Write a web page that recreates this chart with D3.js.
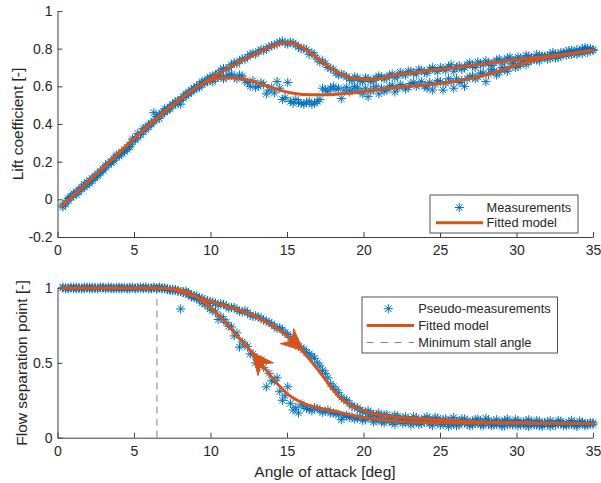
<!DOCTYPE html>
<html><head><meta charset="utf-8">
<script src="https://cdn.jsdelivr.net/npm/d3@7"></script>
<style>
body{margin:0;background:#fff;}
svg{display:block;font-family:"Liberation Sans",Arial,Helvetica,sans-serif;}
</style>
</head><body>
<svg id="chart" width="601" height="483"></svg>
<script>
// ---------- DATA ----------
const xTicks = [0,5,10,15,20,25,30,35];
const xTickLabels = ["0","5","10","15","20","25","30","35"];
const liftTicks = [-0.2,0,0.2,0.4,0.6,0.8,1];
const liftTickLabels = ["-0.2","0","0.2","0.4","0.6","0.8","1"];
const sepTicks = [0,0.5,1];
const sepTickLabels = ["0","0.5","1"];

// Lift: measurements, increasing angle branch [aoa, Cl]
const liftMeasUp = [[0.35,-0.030],[0.70,0.005],[1.05,0.020],[1.40,0.050],[1.75,0.065],[2.10,0.100],[2.45,0.115],[2.80,0.150],[3.15,0.170],[3.50,0.200],
[3.85,0.225],[4.20,0.245],[4.55,0.275],[4.90,0.305],[5.25,0.350],[5.60,0.360],[5.95,0.395],[6.30,0.415],[6.65,0.450],[7.00,0.465],
[7.35,0.490],[7.70,0.515],[8.05,0.525],[8.40,0.560],[8.75,0.580],[9.10,0.600],[9.45,0.625],[9.80,0.640],[10.15,0.655],[10.50,0.670],
[10.85,0.695],[11.20,0.700],[11.55,0.725],[11.90,0.735],[12.25,0.745],[12.60,0.770],[12.95,0.770],[13.30,0.795],[13.65,0.800],[14.00,0.815],
[14.35,0.825],[14.70,0.840],[15.05,0.825],[15.40,0.830],[15.75,0.810],[16.10,0.800],[16.45,0.770],[16.80,0.765],[17.15,0.730],[17.50,0.720],
[17.85,0.695],[18.20,0.670],[18.55,0.665],[18.90,0.650],[19.25,0.630],[19.60,0.645],[19.95,0.625],[20.30,0.640],[20.65,0.630],[21.00,0.655],
[21.35,0.640],[21.70,0.660],[22.05,0.645],[22.40,0.675],[22.75,0.660],[23.10,0.680],[23.45,0.665],[23.80,0.685],[24.15,0.670],[24.50,0.700],
[24.85,0.680],[25.20,0.695],[25.55,0.705],[25.90,0.680],[26.25,0.710],[26.60,0.700],[26.95,0.725],[27.30,0.700],[27.65,0.720],[28.00,0.735],
[28.35,0.710],[28.70,0.740],[29.05,0.725],[29.40,0.750],[29.75,0.735],[30.10,0.755],[30.45,0.740],[30.80,0.760],[31.15,0.745],[31.50,0.765],
[31.85,0.755],[32.20,0.770],[32.55,0.750],[32.90,0.780],[33.25,0.765],[33.60,0.790],[33.95,0.770],[34.30,0.800],[34.65,0.780],[35.00,0.795]];
const liftMeasUpB = [[0.525,-0.020],[0.875,0.010],[1.225,0.040],[1.575,0.055],[1.925,0.090],[2.275,0.100],[2.625,0.135],[2.975,0.155],[3.325,0.190],[3.675,0.205],
[4.025,0.240],[4.375,0.255],[4.725,0.290],[5.075,0.315],[5.425,0.345],[5.775,0.380],[6.125,0.400],[6.475,0.440],[6.825,0.450],[7.175,0.480],
[7.525,0.500],[7.875,0.525],[8.225,0.545],[8.575,0.570],[8.925,0.585],[9.275,0.610],[9.625,0.625],[9.975,0.650],[10.325,0.660],[10.675,0.685],
[11.025,0.690],[11.375,0.715],[11.725,0.720],[12.075,0.745],[12.425,0.755],[12.775,0.775],[13.125,0.785],[13.475,0.790],[13.825,0.810],[14.175,0.820],
[14.525,0.835],[14.875,0.830],[15.225,0.835],[15.575,0.820],[15.925,0.800],[16.275,0.795],[16.625,0.780],[16.975,0.745],[17.325,0.735],[17.675,0.700],
[18.025,0.690],[18.375,0.660],[18.725,0.660],[19.075,0.640],[19.425,0.650],[19.775,0.630],[20.125,0.645],[20.475,0.625],[20.825,0.645],[21.175,0.650],
[21.525,0.645],[21.875,0.665],[22.225,0.655],[22.575,0.665],[22.925,0.680],[23.275,0.670],[23.625,0.690],[23.975,0.675],[24.325,0.690],[24.675,0.685],
[25.025,0.700],[25.375,0.685],[25.725,0.715],[26.075,0.700],[26.425,0.690],[26.775,0.715],[27.125,0.710],[27.475,0.730],[27.825,0.715],[28.175,0.725],
[28.525,0.725],[28.875,0.745],[29.225,0.735],[29.575,0.755],[29.925,0.740],[30.275,0.750],[30.625,0.765],[30.975,0.750],[31.325,0.770],[31.675,0.760],
[32.025,0.760],[32.375,0.780],[32.725,0.770],[33.075,0.775],[33.425,0.790],[33.775,0.775],[34.125,0.785],[34.475,0.805],[34.825,0.790]];

// Lift: measurements, decreasing angle branch [aoa, Cl]
const liftMeasDown = [[0.35,-0.040],[0.70,-0.005],[1.05,0.030],[1.40,0.040],[1.75,0.080],[2.10,0.085],[2.45,0.125],[2.80,0.140],[3.15,0.180],[3.50,0.195],
[3.85,0.235],[4.20,0.250],[4.55,0.265],[4.90,0.320],[5.25,0.330],[5.60,0.375],[5.95,0.385],[6.30,0.460],[6.65,0.430],[7.00,0.480],
[7.35,0.480],[7.70,0.505],[8.05,0.505],[8.40,0.550],[8.75,0.570],[9.10,0.590],[9.45,0.610],[9.80,0.625],[10.15,0.625],[10.50,0.650],
[10.85,0.640],[11.20,0.660],[11.55,0.650],[11.90,0.660],[12.25,0.630],[12.60,0.600],[12.95,0.595],[13.30,0.620],[13.65,0.560],[14.00,0.595],
[14.35,0.625],[14.70,0.530],[15.05,0.620],[15.40,0.510],[15.75,0.515],[16.10,0.505],[16.45,0.520],[16.80,0.510],[17.15,0.530],[17.50,0.580],
[17.85,0.590],[18.20,0.585],[18.55,0.535],[18.90,0.595],[19.25,0.580],[19.60,0.590],[19.95,0.560],[20.30,0.545],[20.65,0.585],[21.00,0.560],
[21.35,0.575],[21.70,0.600],[22.05,0.570],[22.40,0.610],[22.75,0.585],[23.10,0.615],[23.45,0.600],[23.80,0.625],[24.15,0.590],[24.50,0.580],
[24.85,0.630],[25.20,0.580],[25.55,0.640],[25.90,0.590],[26.25,0.620],[26.60,0.600],[26.95,0.650],[27.30,0.640],[27.65,0.670],[28.00,0.625],
[28.35,0.690],[28.70,0.660],[29.05,0.700],[29.40,0.680],[29.75,0.720],[30.10,0.705],[30.45,0.735],[30.80,0.730],[31.15,0.745],[31.50,0.735],
[31.85,0.760],[32.20,0.750],[32.55,0.770],[32.90,0.760],[33.25,0.785],[33.60,0.770],[33.95,0.795],[34.30,0.775],[34.65,0.800],[35.00,0.790]];
const liftMeasDownB = [[0.525,-0.025],[0.875,0.015],[1.225,0.025],[1.575,0.065],[1.925,0.075],[2.275,0.110],[2.625,0.125],[2.975,0.160],[3.325,0.185],[3.675,0.215],
[4.025,0.230],[4.375,0.265],[4.725,0.280],[5.075,0.325],[5.425,0.345],[5.775,0.370],[6.125,0.405],[6.475,0.425],[6.825,0.455],[7.175,0.470],
[7.525,0.505],[7.875,0.520],[8.225,0.540],[8.575,0.560],[8.925,0.590],[9.275,0.595],[9.625,0.620],[9.975,0.635],[10.325,0.640],[10.675,0.655],
[11.025,0.650],[11.375,0.665],[11.725,0.640],[12.075,0.655],[12.425,0.620],[12.775,0.630],[13.125,0.600],[13.475,0.610],[13.825,0.580],[14.175,0.565],
[14.525,0.590],[14.875,0.540],[15.225,0.520],[15.575,0.530],[15.925,0.510],[16.275,0.515],[16.625,0.505],[16.975,0.520],[17.325,0.590],[17.675,0.575],
[18.025,0.600],[18.375,0.590],[18.725,0.580],[19.075,0.570],[19.425,0.600],[19.775,0.575],[20.125,0.590],[20.475,0.575],[20.825,0.600],[21.175,0.590],
[21.525,0.580],[21.875,0.605],[22.225,0.590],[22.575,0.600],[22.925,0.595],[23.275,0.620],[23.625,0.610],[23.975,0.600],[24.325,0.620],[24.675,0.610],
[25.025,0.625],[25.375,0.615],[25.725,0.625],[26.075,0.640],[26.425,0.630],[26.775,0.640],[27.125,0.655],[27.475,0.650],[27.825,0.670],[28.175,0.665],
[28.525,0.680],[28.875,0.675],[29.225,0.690],[29.575,0.705],[29.925,0.700],[30.275,0.720],[30.625,0.715],[30.975,0.740],[31.325,0.740],[31.675,0.755],
[32.025,0.745],[32.375,0.765],[32.725,0.755],[33.075,0.775],[33.425,0.770],[33.775,0.785],[34.125,0.780],[34.475,0.790],[34.825,0.800]];

// Lift: fitted model branches [aoa, Cl]
const liftFitUp = [[0.3,-0.035],[2,0.092],[4,0.245],[6,0.395],[7,0.465],[8,0.53],[9,0.59],[10,0.642],[11,0.69],[12,0.735],[13,0.775],
[14,0.812],[14.8,0.832],[15.5,0.826],[16.3,0.79],[17,0.748],[17.8,0.70],[18.6,0.662],[19.5,0.64],[20.5,0.636],[22.4,0.665],[25,0.69],
[28,0.72],[30,0.742],[32,0.76],[34,0.78],[35,0.792]];
const liftFitDown = [[0.3,-0.035],[2,0.092],[4,0.245],[6,0.395],[7,0.465],[8,0.53],[9,0.59],[10,0.632],[10.8,0.645],[11.5,0.645],[12.5,0.632],
[13.5,0.607],[14.5,0.58],[15.5,0.562],[16.5,0.555],[17.5,0.555],[18.5,0.56],[19.5,0.567],[20,0.573],[21,0.583],[22.4,0.597],[24,0.607],
[25,0.615],[26.7,0.637],[28.5,0.672],[30,0.712],[31.5,0.745],[33,0.765],[35,0.792]];

// Separation point: pseudo-measurements, increasing branch [aoa, f]
const sepMeasUp = [[0.35,1.000],[0.70,0.995],[1.05,1.005],[1.40,1.000],[1.75,0.995],[2.10,1.005],[2.45,1.000],[2.80,1.000],[3.15,0.995],[3.50,1.005],
[3.85,1.000],[4.20,0.995],[4.55,1.000],[4.90,1.005],[5.25,1.000],[5.60,0.995],[5.95,1.000],[6.30,1.005],[6.65,1.000],
[7.00,0.995],[7.35,0.985],[7.70,0.990],[8.05,0.975],[8.40,0.980],[8.75,0.955],[9.10,0.945],[9.45,0.930],[9.80,0.915],[10.15,0.905],
[10.50,0.885],[10.85,0.890],[11.20,0.865],[11.55,0.870],[11.90,0.845],[12.25,0.850],[12.60,0.820],[12.95,0.815],[13.30,0.800],[13.65,0.780],
[14.00,0.760],[14.35,0.730],[14.70,0.720],[15.05,0.690],[15.40,0.650],[15.75,0.610],[16.10,0.590],[16.45,0.560],[16.80,0.530],[17.15,0.480],
[17.50,0.430],[17.85,0.360],[18.20,0.320],[18.55,0.270],[18.90,0.250],[19.25,0.210],[19.60,0.200],[19.95,0.175],[20.30,0.180],[20.65,0.155],
[21.00,0.165],[21.35,0.150],[21.70,0.130],[22.05,0.150],[22.40,0.125],[22.75,0.140],[23.10,0.115],[23.45,0.135],[23.80,0.120],[24.15,0.140],
[24.50,0.110],[24.85,0.130],[25.20,0.120],[25.55,0.105],[25.90,0.135],[26.25,0.110],[26.60,0.125],[26.95,0.100],[27.30,0.120],[27.65,0.110],
[28.00,0.130],[28.35,0.100],[28.70,0.120],[29.05,0.105],[29.40,0.125],[29.75,0.095],[30.10,0.115],[30.45,0.105],[30.80,0.120],[31.15,0.090],
[31.50,0.110],[31.85,0.100],[32.20,0.115],[32.55,0.090],[32.90,0.110],[33.25,0.095],[33.60,0.115],[33.95,0.090],[34.30,0.105],[34.65,0.095],[35.00,0.100]];
const sepMeasUpB = [[0.525,1.000],[0.875,1.005],[1.225,0.995],[1.575,1.000],[1.925,1.005],[2.275,0.995],[2.625,1.000],[2.975,1.005],[3.325,1.000],[3.675,0.995],
[4.025,1.005],[4.375,1.000],[4.725,0.995],[5.075,1.000],[5.425,1.005],[5.775,1.000],[6.125,0.995],[6.475,1.000],[6.825,0.995],[7.175,0.990],
[7.525,0.985],[7.875,0.980],[8.225,0.970],[8.575,0.965],[8.925,0.950],[9.275,0.935],[9.625,0.920],[9.975,0.910],[10.325,0.900],[10.675,0.895],
[11.025,0.880],[11.375,0.870],[11.725,0.855],[12.075,0.840],[12.425,0.835],[12.775,0.810],[13.125,0.805],[13.475,0.785],[13.825,0.770],[14.175,0.745],
[14.525,0.735],[14.875,0.700],[15.225,0.670],[15.575,0.640],[15.925,0.600],[16.275,0.570],[16.625,0.545],[16.975,0.500],[17.325,0.450],[17.675,0.400],
[18.025,0.340],[18.375,0.300],[18.725,0.255],[19.075,0.230],[19.425,0.205],[19.775,0.185],[20.125,0.170],[20.475,0.165],[20.825,0.150],[21.175,0.145],
[21.525,0.155],[21.875,0.135],[22.225,0.145],[22.575,0.130],[22.925,0.125],[23.275,0.140],[23.625,0.115],[23.975,0.130],[24.325,0.125],[24.675,0.135],
[25.025,0.110],[25.375,0.125],[25.725,0.120],[26.075,0.105],[26.425,0.125],[26.775,0.115],[27.125,0.110],[27.475,0.125],[27.825,0.100],[28.175,0.115],
[28.525,0.110],[28.875,0.100],[29.225,0.115],[29.575,0.105],[29.925,0.120],[30.275,0.095],[30.625,0.110],[30.975,0.105],[31.325,0.115],[31.675,0.095],
[32.025,0.105],[32.375,0.100],[32.725,0.115],[33.075,0.090],[33.425,0.105],[33.775,0.100],[34.125,0.110],[34.475,0.090],[34.825,0.100]];

// Separation point: pseudo-measurements, decreasing branch [aoa, f]
const sepMeasDown = [[0.35,1.005],[0.70,1.000],[1.05,0.995],[1.40,1.000],[1.75,1.005],[2.10,0.995],[2.45,1.000],[2.80,1.005],[3.15,1.000],[3.50,0.995],
[3.85,1.000],[4.20,1.005],[4.55,0.995],[4.90,1.000],[5.25,1.000],[5.60,1.005],[5.95,0.995],[6.30,1.000],[6.65,1.005],
[7.00,1.000],[7.35,0.990],[7.70,0.985],[8.05,0.860],[8.40,0.965],[8.75,0.940],[9.10,0.930],[9.45,0.900],[9.80,0.880],[10.15,0.850],
[10.50,0.790],[10.85,0.790],[11.20,0.745],[11.55,0.680],[11.90,0.605],[12.25,0.620],[12.60,0.560],[12.95,0.500],[13.30,0.520],[13.65,0.340],
[14.00,0.380],[14.35,0.400],[14.70,0.250],[15.05,0.340],[15.40,0.185],[15.75,0.165],[16.10,0.210],[16.45,0.190],[16.80,0.200],[17.15,0.185],
[17.50,0.175],[17.85,0.165],[18.20,0.160],[18.55,0.120],[18.90,0.150],[19.25,0.140],[19.60,0.130],[19.95,0.115],[20.30,0.140],[20.65,0.105],
[21.00,0.125],[21.35,0.100],[21.70,0.115],[22.05,0.090],[22.40,0.110],[22.75,0.100],[23.10,0.085],[23.45,0.105],[23.80,0.095],[24.15,0.110],
[24.50,0.080],[24.85,0.100],[25.20,0.090],[25.55,0.075],[25.90,0.095],[26.25,0.085],[26.60,0.100],[26.95,0.080],[27.30,0.095],[27.65,0.085],
[28.00,0.100],[28.35,0.080],[28.70,0.090],[29.05,0.075],[29.40,0.095],[29.75,0.085],[30.10,0.080],[30.45,0.095],[30.80,0.075],[31.15,0.090],
[31.50,0.080],[31.85,0.095],[32.20,0.075],[32.55,0.085],[32.90,0.095],[33.25,0.080],[33.60,0.090],[33.95,0.075],[34.30,0.095],[34.65,0.085],[35.00,0.090]];
const sepMeasDownB = [[0.525,0.995],[0.875,1.000],[1.225,1.005],[1.575,0.995],[1.925,1.000],[2.275,1.005],[2.625,0.995],[2.975,1.000],[3.325,1.005],[3.675,1.000],
[4.025,0.995],[4.375,1.000],[4.725,1.005],[5.075,0.995],[5.425,1.000],[5.775,1.005],[6.125,1.000],[6.475,0.995],[6.825,1.000],[7.175,0.995],
[7.525,0.990],[7.875,0.980],[8.225,0.975],[8.575,0.955],[8.925,0.935],[9.275,0.920],[9.625,0.895],[9.975,0.860],[10.325,0.840],[10.675,0.810],
[11.025,0.770],[11.375,0.740],[11.725,0.700],[12.075,0.640],[12.425,0.610],[12.775,0.560],[13.125,0.490],[13.475,0.470],[13.825,0.430],[14.175,0.380],
[14.525,0.310],[14.875,0.280],[15.225,0.230],[15.575,0.200],[15.925,0.225],[16.275,0.195],[16.625,0.180],[16.975,0.195],[17.325,0.170],[17.675,0.185],
[18.025,0.165],[18.375,0.155],[18.725,0.145],[19.075,0.135],[19.425,0.125],[19.775,0.140],[20.125,0.120],[20.475,0.130],[20.825,0.115],[21.175,0.105],
[21.525,0.120],[21.875,0.100],[22.225,0.115],[22.575,0.095],[22.925,0.110],[23.275,0.100],[23.625,0.090],[23.975,0.105],[24.325,0.095],[24.675,0.110],
[25.025,0.085],[25.375,0.100],[25.725,0.090],[26.075,0.080],[26.425,0.100],[26.775,0.090],[27.125,0.085],[27.475,0.100],[27.825,0.080],[28.175,0.095],
[28.525,0.085],[28.875,0.095],[29.225,0.080],[29.575,0.090],[29.925,0.100],[30.275,0.085],[30.625,0.080],[30.975,0.095],[31.325,0.085],[31.675,0.075],
[32.025,0.090],[32.375,0.085],[32.725,0.095],[33.075,0.080],[33.425,0.090],[33.775,0.085],[34.125,0.095],[34.475,0.080],[34.825,0.090]];

// Separation point: fitted model branches [aoa, f]
const sepFitUp = [[0.3,1],[6.5,1],[7.5,0.99],[8.5,0.96],[9.5,0.925],[10.5,0.895],[11.5,0.865],[12.5,0.83],[13.5,0.78],[14.5,0.72],
[15.5,0.635],[16.5,0.52],[17.5,0.39],[18,0.32],[18.5,0.265],[19.5,0.2],[20.5,0.165],[22,0.14],[25,0.12],[28,0.105],[31,0.1],[35,0.095]];
const sepFitDown = [[0.3,1],[6.5,1],[7.5,0.995],[8.5,0.972],[9.5,0.91],[10.5,0.82],[11,0.768],[12,0.65],[12.5,0.595],[13,0.535],
[13.5,0.47],[14,0.405],[14.5,0.345],[15,0.295],[15.85,0.24],[17,0.2],[18,0.178],[20,0.135],[22.4,0.108],[25,0.1],[30,0.096],[35,0.095]];

// Direction arrows on the fitted loop [aoa, f]
const sepArrowFrom = [[15.1,0.669],[13.35,0.49]];
const sepArrowTo = [[16.07,0.58],[12.7,0.571]];

const minStallAngle = [6.5];

// ---------- STYLE ----------
const BLUE = "#0072BD", ORANGE = "#D95319", AXIS = "#404040", TEXT = "#262626";
const svg = d3.select("#chart");

const x = d3.scaleLinear().domain([0,35]).range([57.5,593]);
const yLift = d3.scaleLinear().domain([-0.2,1]).range([237,11]);
const ySep = d3.scaleLinear().domain([0,1]).range([437.7,288]);

function star(r){
  const k = r*0.7071;
  return `M${-r},0H${r}M0,${-r}V${r}M${-k},${-k}L${k},${k}M${-k},${k}L${k},${-k}`;
}

function drawAxes(y, ticks, labels){
  const gx = svg.append("g").attr("transform",`translate(0,${y.range()[0]})`)
    .call(d3.axisBottom(x).tickValues(xTicks).tickFormat((d,i)=>xTickLabels[i]).tickSizeInner(-5).tickSizeOuter(0).tickPadding(8));
  const gy = svg.append("g").attr("transform",`translate(${x.range()[0]},0)`)
    .call(d3.axisLeft(y).tickValues(ticks).tickFormat((d,i)=>labels[i]).tickSizeInner(-5).tickSizeOuter(0).tickPadding(5));
  [gx,gy].forEach(g=>{
    g.select(".domain").attr("stroke",AXIS).attr("stroke-width",1);
    g.selectAll(".tick line").attr("stroke",AXIS).attr("stroke-width",1);
    g.selectAll(".tick text").attr("fill",TEXT).style("font-size","14px").style("font-family",'"Liberation Sans",Arial,sans-serif');
  });
}

function drawMarkers(data, y){
  svg.append("g").selectAll("path").data(data).join("path")
    .attr("d", star(4.6))
    .attr("transform", d=>`translate(${x(d[0])},${y(d[1])})`)
    .attr("fill","none").attr("stroke",BLUE).attr("stroke-width",1);
}

function drawFit(data, y){
  const line = d3.line().x(d=>x(d[0])).y(d=>y(d[1])).curve(d3.curveMonotoneX);
  svg.append("path").datum(data).attr("d",line)
    .attr("fill","none").attr("stroke",ORANGE).attr("stroke-width",3).attr("stroke-linejoin","round").attr("stroke-linecap","round");
}

// ---------- TOP: lift ----------
drawAxes(yLift, liftTicks, liftTickLabels);
[liftMeasUp, liftMeasUpB, liftMeasDown, liftMeasDownB].forEach(s=>drawMarkers(s, yLift));
drawFit(liftFitUp, yLift);
drawFit(liftFitDown, yLift);

// ---------- BOTTOM: separation ----------
drawAxes(ySep, sepTicks, sepTickLabels);
svg.append("g").selectAll("line").data(minStallAngle).join("line")
  .attr("x1",d=>x(d)).attr("x2",d=>x(d)).attr("y1",ySep(0)).attr("y2",ySep(1))
  .attr("stroke","#808080").attr("stroke-width",1).attr("stroke-dasharray","7,5");
[sepMeasUp, sepMeasUpB, sepMeasDown, sepMeasDownB].forEach(s=>drawMarkers(s, ySep));
drawFit(sepFitUp, ySep);
drawFit(sepFitDown, ySep);

// arrowheads
sepArrowTo.forEach((t,i)=>{
  const f = sepArrowFrom[i];
  const tx = x(t[0]), ty = ySep(t[1]), fx = x(f[0]), fy = ySep(f[1]);
  let ux = tx-fx, uy = ty-fy; const n = Math.hypot(ux,uy); ux/=n; uy/=n;
  const L = 22, W = 10, N = 15;
  const bx = tx-ux*L, by = ty-uy*L;
  const p1 = [bx - uy*W, by + ux*W], p2 = [bx + uy*W, by - ux*W];
  const nt = [tx-ux*N, ty-uy*N];
  svg.append("path").attr("d",`M${tx},${ty}L${p1[0]},${p1[1]}L${nt[0]},${nt[1]}L${p2[0]},${p2[1]}Z`)
    .attr("fill",ORANGE).attr("stroke",ORANGE).attr("stroke-width",1).attr("stroke-linejoin","round");
});

// ---------- LABELS ----------
const labelStyle = sel => sel.attr("fill",TEXT).style("font-size","15.5px").attr("text-anchor","middle");
svg.append("text").text("Lift coefficient [-]").attr("transform","translate(22.5,124) rotate(-90)").call(labelStyle);
svg.append("text").text("Flow separation point [-]").attr("transform","translate(27,363) rotate(-90)").call(labelStyle);
svg.append("text").text("Angle of attack [deg]").attr("x",325).attr("y",477).call(labelStyle);

// ---------- LEGENDS ----------
function legend(x0,y0,w,h,items){
  const g = svg.append("g");
  g.append("rect").attr("x",x0).attr("y",y0).attr("width",w).attr("height",h)
    .attr("fill","#fff").attr("stroke","#262626").attr("stroke-width",0.8);
  items.forEach(it=>{
    if(it.type==="marker"){
      g.append("path").attr("d",star(4.6)).attr("transform",`translate(${it.mx},${it.y})`)
        .attr("fill","none").attr("stroke",BLUE).attr("stroke-width",1);
    } else if(it.type==="line"){
      g.append("line").attr("x1",it.x1).attr("x2",it.x2).attr("y1",it.y).attr("y2",it.y)
        .attr("stroke",ORANGE).attr("stroke-width",3);
    } else {
      g.append("line").attr("x1",it.x1).attr("x2",it.x2).attr("y1",it.y).attr("y2",it.y)
        .attr("stroke","#808080").attr("stroke-width",1).attr("stroke-dasharray","7,7");
    }
    g.append("text").text(it.label).attr("x",it.tx).attr("y",it.y).attr("dy","0.35em")
      .attr("fill",TEXT).style("font-size","12.8px");
  });
}
legend(430,195,148,38,[
  {type:"marker",mx:459.3,y:207.5,tx:486.5,label:"Measurements"},
  {type:"line",x1:436,x2:483,y:222.7,tx:486.5,label:"Fitted model"}
]);
legend(362,297,195.5,56,[
  {type:"marker",mx:388.3,y:308.7,tx:418.3,label:"Pseudo-measurements"},
  {type:"line",x1:366.7,x2:414,y:325.5,tx:418.3,label:"Fitted model"},
  {type:"dash",x1:366.7,x2:414,y:342.5,tx:418.3,label:"Minimum stall angle"}
]);
</script>
</body></html>
